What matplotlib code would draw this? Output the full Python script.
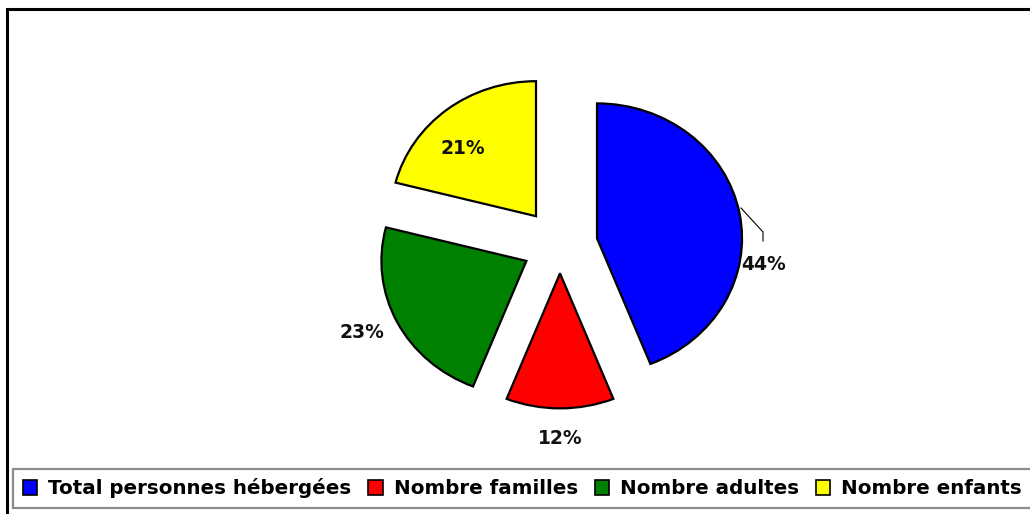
import numpy as np
import matplotlib
matplotlib.use("Agg")
import matplotlib.pyplot as plt
from matplotlib.patches import Rectangle

categories = ["Total personnes hébergées", "Nombre familles", "Nombre adultes", "Nombre enfants"]
shares = [44, 12, 23, 21]
labels = ["44%", "12%", "23%", "21%"]
colors = ["#0000FF", "#FF0000", "#008000", "#FFFF00"]

# layout: explode per wedge, label (angle deg, radius) around the pie centre
explode = [0.26, 0.21, 0.26, 0.27]
label_pos = [(-6, 1.41), (-90, 1.43), (205.5, 1.51), (133, 0.98)]

W, H = 1030, 514
cx, cy = 560, 245          # pie centre in pixels (from top)
rx, ry = 145, 135          # radius in pixels

fig = plt.figure(figsize=(W / 100, H / 100), dpi=100)
ax = fig.add_axes([0, 0, 1, 1])
wedges, _ = ax.pie(shares, colors=colors, explode=explode, startangle=90,
                   counterclock=False,
                   wedgeprops=dict(edgecolor="black", linewidth=1.6))
ax.set_aspect("auto")
ax.set_xlim(-cx / rx, (W - cx) / rx)
ax.set_ylim(-(H - cy) / ry, cy / ry)
ax.axis("off")

for lab, (ang, r) in zip(labels, label_pos):
    a = np.deg2rad(ang)
    ax.text(r * np.cos(a), r * np.sin(a), lab, ha="center", va="center",
            fontsize=13.5, fontweight="bold", color="#111111")

# leader line for the blue slice label
p0 = ((741 - cx) / rx, (cy - 208) / ry)
p1 = ((763 - cx) / rx, (cy - 232) / ry)
p2 = ((763 - cx) / rx, (cy - 241) / ry)
ax.plot([p0[0], p1[0], p2[0]], [p0[1], p1[1], p2[1]], color="black", lw=0.8)

leg = fig.legend(wedges, categories, loc="center left", ncol=4,
                 bbox_to_anchor=(13 / W, 1 - 488.5 / H), frameon=True,
                 fancybox=False, edgecolor="#707070", handlelength=0.72,
                 handleheight=0.72, handletextpad=0.55, columnspacing=0.85,
                 borderpad=0.5, borderaxespad=0,
                 prop=dict(weight="bold", size=14.3))
leg.get_frame().set_linewidth(1.6)
for h in leg.legend_handles:
    h.set_linewidth(1.2)

# outer chart border (right/bottom edges run off the image)
fig.patches.append(Rectangle((7 / W, -0.02), 1.05, 1 - 9 / H + 0.02,
                             transform=fig.transFigure, fill=False,
                             edgecolor="black", linewidth=2.2))

fig.savefig("out.png", dpi=100)
